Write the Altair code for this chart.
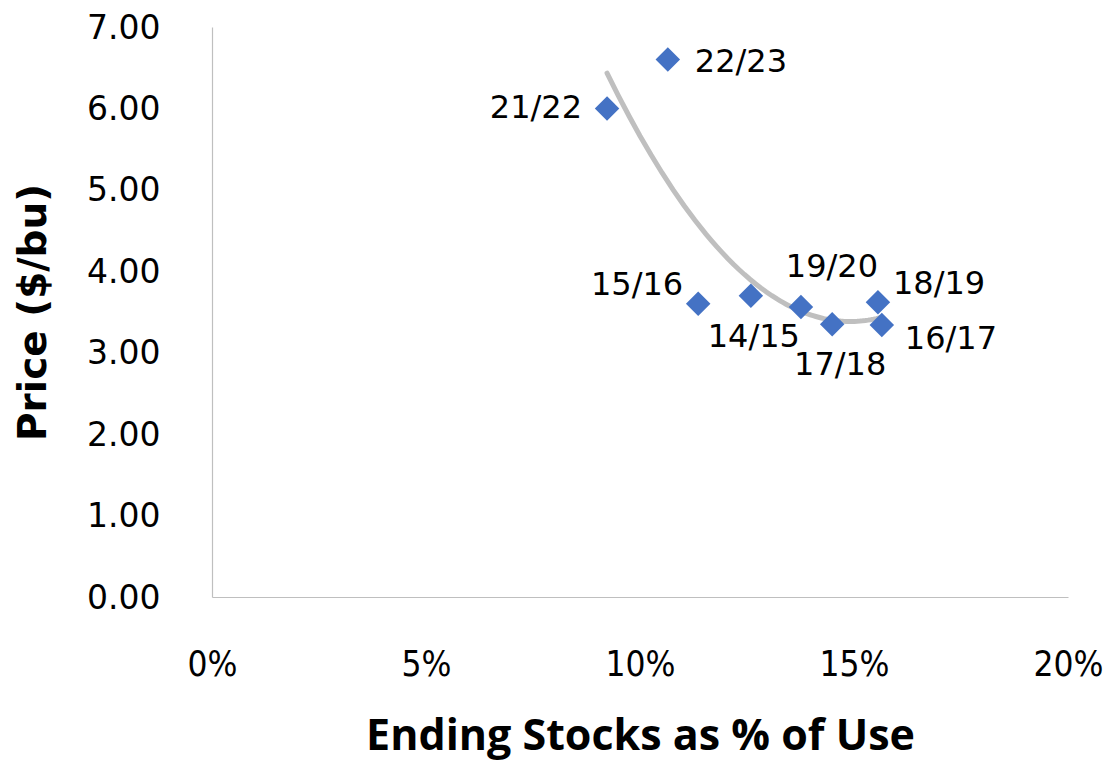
import altair as alt
import pandas as pd

# Data
seasons = ["21/22", "22/23", "15/16", "14/15", "19/20", "17/18", "18/19", "16/17"]
stocks_pct = [0.0923, 0.1065, 0.1136, 0.1259, 0.1376, 0.1449, 0.1556, 0.1565]
price = [6.00, 6.60, 3.60, 3.70, 3.56, 3.35, 3.62, 3.34]

df = pd.DataFrame({"season": seasons, "pct": stocks_pct, "price": price})

PLOT_H = 570

x_enc = alt.X(
    "pct:Q",
    scale=alt.Scale(domain=[0, 0.20], nice=False, zero=True),
    axis=alt.Axis(
        values=[0, 0.05, 0.10, 0.15, 0.20],
        format=".0%",
        title="Ending Stocks as % of Use",
        grid=False,
        ticks=False,
        domainColor="#BFBFBF",
        domainWidth=1.2,
        labelFont="Liberation Sans Narrow, DejaVu Sans Condensed, Roboto Condensed, Lato",
        labelFontSize=35,
        labelColor="#000000",
        labelPadding=50,
        labelFlush=False,
        titleFont="Open Sans",
        titleFontSize=43,
        titleFontWeight="bold",
        titleColor="#000000",
        titleX=428,
        titleY=139,
        titleBaseline="middle",
        titleAlign="center",
    ),
)
y_enc = alt.Y(
    "price:Q",
    scale=alt.Scale(domain=[0, 7], nice=False),
    axis=alt.Axis(
        values=[0, 1, 2, 3, 4, 5, 6, 7],
        format=".2f",
        title="Price ($/bu)",
        grid=False,
        ticks=False,
        domainColor="#BFBFBF",
        domainWidth=1.2,
        labelFont="DejaVu Sans",
        labelFontSize=33,
        labelOffset=1,
        labelColor="#000000",
        labelPadding=52,
        labelFlush=False,
        titleFont="DejaVu Sans",
        titleFontSize=39,
        titleFontWeight="bold",
        titleColor="#000000",
        titleX=-179,
        titleY=285,
        titleAngle=270,
        titleBaseline="middle",
        titleAlign="center",
    ),
)

base = alt.Chart(df)

trend = base.transform_regression(
    "pct", "price", method="poly", order=2
).mark_line(color="#BFBFBF", strokeWidth=5, strokeCap="round").encode(
    x=x_enc, y=y_enc
)

points = base.mark_point(
    shape="diamond", filled=True, size=600, color="#4472C4", opacity=1
).encode(x=x_enc, y=y_enc)

# per-label placement (style), matching the reference layout
label_style = {
    "21/22": dict(align="right", dx=-25, dy=0),
    "22/23": dict(align="left", dx=27, dy=2),
    "15/16": dict(align="right", dx=-15, dy=-19),
    "14/15": dict(align="center", dx=3, dy=41),
    "19/20": dict(align="center", dx=31, dy=-40),
    "17/18": dict(align="center", dx=8, dy=41),
    "18/19": dict(align="left", dx=15, dy=-18),
    "16/17": dict(align="left", dx=23, dy=14),
}

label_layers = []
for s in seasons:
    st = label_style[s]
    label_layers.append(
        base.transform_filter(alt.datum.season == s)
        .mark_text(
            font="DejaVu Sans",
            fontSize=32,
            color="#000000",
            baseline="middle",
            align=st["align"],
            dx=st["dx"],
            dy=st["dy"],
        )
        .encode(x=x_enc, y=y_enc, text="season:N")
    )

chart = (
    alt.layer(trend, points, *label_layers)
    .properties(
        width=856,
        height=PLOT_H,
        autosize=alt.AutoSizeParams(type="none"),
        padding={"left": 204, "top": 19, "right": 36, "bottom": 167},
        view=alt.ViewBackground(stroke="transparent", strokeWidth=0),
    )
    .configure_view(stroke="transparent", strokeWidth=0, strokeOpacity=0)
    .configure(background="white")
)

chart.save("out.html", embed_options={"renderer": "svg", "actions": False})
